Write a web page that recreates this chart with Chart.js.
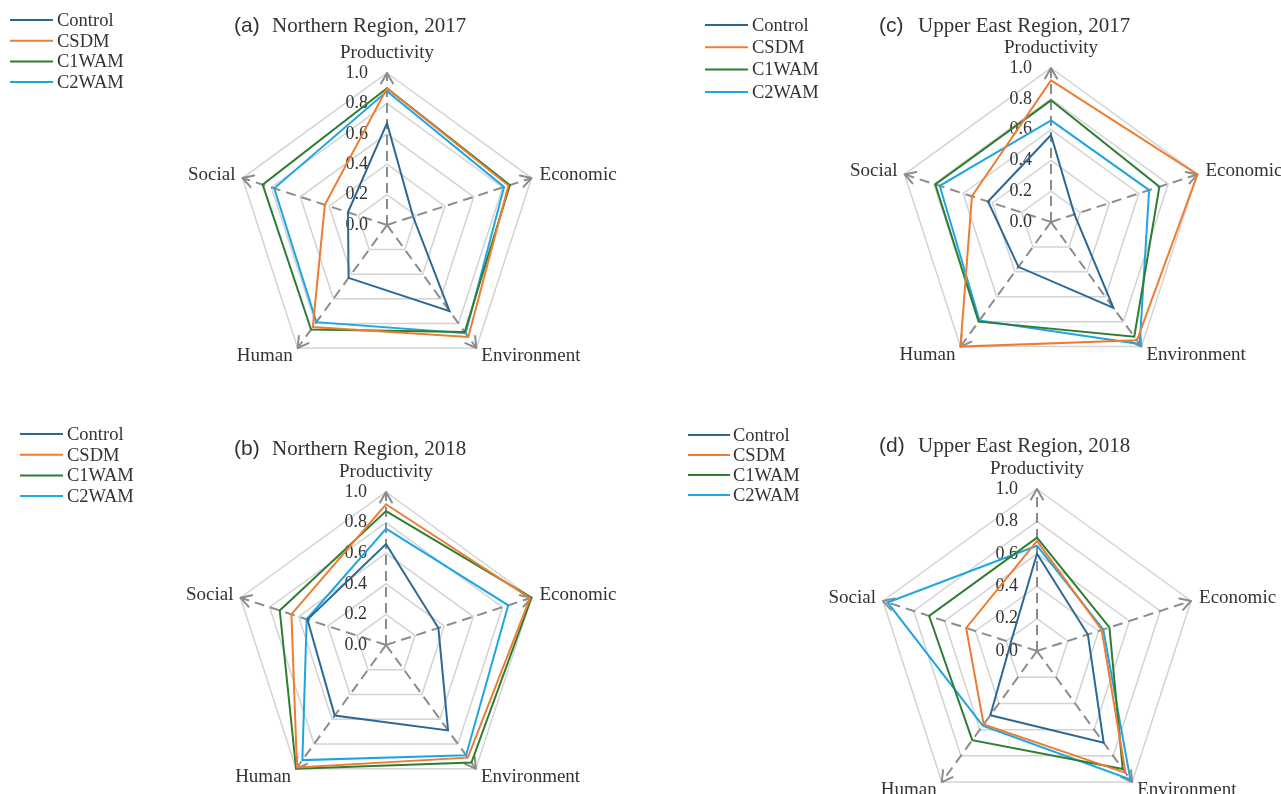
<!DOCTYPE html>
<html>
<head>
<meta charset="utf-8">
<title>Sustainability indicator radar charts</title>
<script src="https://cdn.jsdelivr.net/npm/chart.js@4.4.1/dist/chart.umd.min.js"></script>
<style>
  html, body { margin: 0; padding: 0; background: #ffffff; overflow: hidden; }
  #wrap { position: relative; width: 1281px; height: 794px; overflow: hidden; background: #ffffff; }
  #wrap canvas { position: absolute; left: 0; top: 0; }
</style>
</head>
<body>
<div id="wrap">
  <canvas id="panelA" width="1281" height="860"></canvas>
  <canvas id="panelB" width="1281" height="860"></canvas>
  <canvas id="panelC" width="1281" height="860"></canvas>
  <canvas id="panelD" width="1281" height="860"></canvas>
</div>
<script>
// Indicator axes, clockwise from the top
const categories = ['Productivity', 'Economic', 'Environment', 'Human', 'Social'];
const seriesNames = ['Control', 'CSDM', 'C1WAM', 'C2WAM'];
const tickValues = [0, 0.2, 0.4, 0.6, 0.8, 1.0];
const tickLabels = ['0.0', '0.2', '0.4', '0.6', '0.8', '1.0'];

// (a) Northern Region, 2017
const northern2017Control = [0.67, 0.18, 0.70, 0.43, 0.27];
const northern2017CSDM    = [0.90, 0.84, 0.91, 0.83, 0.43];
const northern2017C1WAM   = [0.90, 0.85, 0.87, 0.85, 0.86];
const northern2017C2WAM   = [0.88, 0.81, 0.88, 0.79, 0.78];

// (b) Northern Region, 2018
const northern2018Control = [0.66, 0.36, 0.69, 0.57, 0.54];
const northern2018CSDM    = [0.92, 0.99, 0.91, 0.99, 0.65];
const northern2018C1WAM   = [0.875, 1.00, 0.95, 1.00, 0.73];
const northern2018C2WAM   = [0.76, 0.84, 0.89, 0.93, 0.545];

// (c) Upper East Region, 2017
const upperEast2017Control = [0.565, 0.16, 0.69, 0.36, 0.43];
const upperEast2017CSDM    = [0.92, 1.00, 0.95, 1.00, 0.54];
const upperEast2017C1WAM   = [0.79, 0.74, 0.92, 0.80, 0.79];
const upperEast2017C2WAM   = [0.66, 0.67, 0.98, 0.79, 0.76];

// (d) Upper East Region, 2018
const upperEast2018Control = [0.60, 0.33, 0.70, 0.49, 0.17];
const upperEast2018CSDM    = [0.68, 0.42, 0.93, 0.56, 0.46];
const upperEast2018C1WAM   = [0.70, 0.47, 0.90, 0.68, 0.70];
const upperEast2018C2WAM   = [0.65, 0.43, 0.98, 0.57, 0.97];

// ---- styling ----
const seriesColors = ['#2a6896', '#ed7d31', '#2e7d32', '#1fa6e2'];
const SERIF = '"Liberation Serif", "Times New Roman", serif';
const SANS = '"Liberation Sans", Arial, sans-serif';
const TEXT = '#333333';
const AXIS_GREY = '#8c8c8c';
const RING_GREY = '#d3d3d3';

// Where each axis name sits relative to the end of its axis
const labelPlacement = [
  { align: 'center', dx: 0,  dy: -20 },
  { align: 'left',   dx: 8,  dy: -3 },
  { align: 'left',   dx: 5,  dy: 8 },
  { align: 'right',  dx: -5, dy: 8 },
  { align: 'right',  dx: -7, dy: -3 }
];

const panels = [
  { id: 'panelA', tag: '(a)', title: 'Northern Region, 2017',
    series: [northern2017Control, northern2017CSDM, northern2017C1WAM, northern2017C2WAM],
    cx: 387, cy: 225, r: 152,
    titleX: 234, textX: 272, titleY: 32,
    legend: { x0: 10, x1: 53, tx: 57, y0: 20, dy: 20.7 } },
  { id: 'panelB', tag: '(b)', title: 'Northern Region, 2018',
    series: [northern2018Control, northern2018CSDM, northern2018C1WAM, northern2018C2WAM],
    cx: 386, cy: 645, r: 153,
    titleX: 234, textX: 272, titleY: 455,
    legend: { x0: 20, x1: 63, tx: 67, y0: 434, dy: 20.7 } },
  { id: 'panelC', tag: '(c)', title: 'Upper East Region, 2017',
    series: [upperEast2017Control, upperEast2017CSDM, upperEast2017C1WAM, upperEast2017C2WAM],
    cx: 1051, cy: 222, r: 154,
    titleX: 879, textX: 918, titleY: 32,
    legend: { x0: 705, x1: 748, tx: 752, y0: 25, dy: 22.3 } },
  { id: 'panelD', tag: '(d)', title: 'Upper East Region, 2018',
    series: [upperEast2018Control, upperEast2018CSDM, upperEast2018C1WAM, upperEast2018C2WAM],
    cx: 1037, cy: 651, r: 162,
    titleX: 879, textX: 918, titleY: 452,
    legend: { x0: 688, x1: 730, tx: 733, y0: 435, dy: 20 } }
];

// Axis arrowheads, tick values, axis names, panel title and legend
function decorPlugin(p) {
  return {
    id: 'radarDecor',
    beforeDatasetsDraw(chart) {
      const s = chart.scales.r;
      const ctx = chart.ctx;
      ctx.save();
      ctx.strokeStyle = AXIS_GREY;
      ctx.lineWidth = 2;
      ctx.setLineDash([]);
      ctx.lineCap = 'round';
      const len = 12, ang = Math.PI / 6;
      for (let i = 0; i < chart.data.labels.length; i++) {
        const tip = s.getPointPositionForValue(i, s.max);
        const ux = (tip.x - s.xCenter) / s.drawingArea;
        const uy = (tip.y - s.yCenter) / s.drawingArea;
        ctx.beginPath();
        for (const sg of [-1, 1]) {
          const c = Math.cos(sg * ang), sn = Math.sin(sg * ang);
          const bx = -(ux * c - uy * sn) * len;
          const by = -(ux * sn + uy * c) * len;
          ctx.moveTo(tip.x + bx, tip.y + by);
          ctx.lineTo(tip.x, tip.y);
        }
        ctx.stroke();
      }
      // tick values to the left of the top axis
      ctx.font = '18px ' + SERIF;
      ctx.fillStyle = TEXT;
      ctx.textAlign = 'right';
      ctx.textBaseline = 'middle';
      s.ticks.forEach(t => {
        const y = s.yCenter - s.getDistanceFromCenterForValue(t.value);
        ctx.fillText(t.label, s.xCenter - 19, y);
      });
      ctx.restore();
    },
    afterDraw(chart) {
      const s = chart.scales.r;
      const ctx = chart.ctx;
      ctx.save();
      // axis names
      ctx.font = '19px ' + SERIF;
      ctx.fillStyle = TEXT;
      ctx.textBaseline = 'middle';
      chart.data.labels.forEach((lab, i) => {
        const pt = s.getPointPositionForValue(i, s.max);
        const pl = labelPlacement[i];
        ctx.textAlign = pl.align;
        ctx.fillText(lab, pt.x + pl.dx, pt.y + pl.dy);
      });
      // panel title
      ctx.textAlign = 'left';
      ctx.textBaseline = 'alphabetic';
      ctx.font = '21px ' + SANS;
      ctx.fillText(p.tag, p.titleX, p.titleY);
      ctx.font = '21px ' + SERIF;
      ctx.fillText(p.title, p.textX, p.titleY);
      // legend
      const lg = p.legend;
      ctx.font = '18.5px ' + SERIF;
      ctx.textBaseline = 'middle';
      chart.data.datasets.forEach((ds, k) => {
        const y = lg.y0 + k * lg.dy;
        ctx.strokeStyle = ds.borderColor;
        ctx.lineWidth = 2;
        ctx.beginPath();
        ctx.moveTo(lg.x0, y);
        ctx.lineTo(lg.x1, y);
        ctx.stroke();
        ctx.fillStyle = TEXT;
        ctx.fillText(ds.label, lg.tx, y + 1);
      });
      ctx.restore();
    }
  };
}

panels.forEach(p => {
  const canvas = document.getElementById(p.id);
  const W = canvas.width, H = canvas.height;
  new Chart(canvas, {
    type: 'radar',
    data: {
      labels: categories,
      datasets: p.series.map((vals, k) => ({
        label: seriesNames[k],
        data: vals,
        borderColor: seriesColors[k],
        backgroundColor: 'rgba(0,0,0,0)',
        borderWidth: 2,
        pointRadius: 0,
        pointHoverRadius: 0,
        fill: false,
        tension: 0,
        clip: false
      }))
    },
    options: {
      responsive: false,
      animation: false,
      devicePixelRatio: 1,
      events: [],
      layout: {
        padding: {
          left: p.cx - p.r,
          top: p.cy - p.r,
          right: W - (p.cx + p.r),
          bottom: H - (p.cy + p.r)
        }
      },
      plugins: {
        legend: { display: false },
        title: { display: false },
        tooltip: { enabled: false }
      },
      scales: {
        r: {
          min: 0,
          max: 1,
          beginAtZero: true,
          ticks: {
            display: false,
            stepSize: 0.2,
            callback: (v, i) => tickLabels[i]
          },
          grid: { color: RING_GREY, lineWidth: 1.5, circular: false },
          angleLines: { color: AXIS_GREY, lineWidth: 2, borderDash: [10, 6] },
          pointLabels: { display: false }
        }
      }
    },
    plugins: [decorPlugin(p)]
  });
});
</script>
</body>
</html>
